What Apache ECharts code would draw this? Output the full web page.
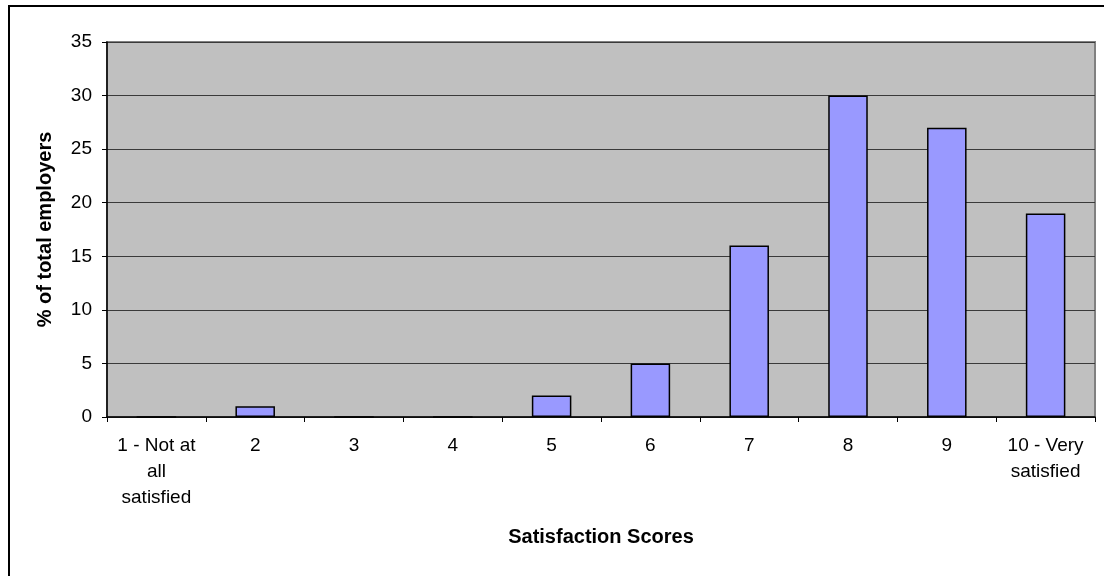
<!DOCTYPE html>
<html>
<head>
<meta charset="utf-8">
<script src="https://cdn.jsdelivr.net/npm/echarts@6/dist/echarts.min.js"></script>
<style>
  html, body { margin: 0; padding: 0; background: #fff; }
  #chart { width: 1104px; height: 576px; }
</style>
</head>
<body>
<div id="chart"></div>
<script>
// Satisfaction score categories (x axis)
const categories = [
  '1 - Not at\nall\nsatisfied', '2', '3', '4', '5', '6', '7', '8', '9', '10 - Very\nsatisfied'
];
// Share of employers giving each score (%)
const percentages = [0, 1, 0, 0, 2, 5, 16, 30, 27, 19];
// Value axis range
const yMin = 0;
const yMax = 35;
const yStep = 5;

const FONT = "'Liberation Sans', Arial, sans-serif";

const chart = echarts.init(document.getElementById('chart'), null, { renderer: 'canvas' });
chart.setOption({
  animation: false,
  backgroundColor: '#ffffff',
  textStyle: { fontFamily: FONT },
  graphic: [
    {
      type: 'rect',
      silent: true,
      z: 100,
      shape: { x: 9, y: 6, width: 1200, height: 700 },
      style: { fill: 'none', stroke: '#000', lineWidth: 2 }
    }
  ],
  grid: {
    left: 107, top: 42, right: 9, bottom: 159,
    show: true,
    backgroundColor: '#C0C0C0',
    borderColor: '#808080',
    borderWidth: 2
  },
  xAxis: {
    type: 'category',
    data: categories,
    boundaryGap: true,
    name: 'Satisfaction Scores',
    nameLocation: 'middle',
    nameGap: 110,
    nameTextStyle: { fontFamily: FONT, fontSize: 20, fontWeight: 'bold', color: '#000' },
    axisLine: { show: true, lineStyle: { color: '#000', width: 1.5 } },
    axisTick: { show: true, inside: false, length: 5, alignWithLabel: false, interval: 0, lineStyle: { color: '#000' } },
    axisLabel: {
      interval: 0,
      margin: 16,
      fontFamily: FONT,
      fontSize: 19,
      lineHeight: 26,
      color: '#000',
      align: 'center'
    },
    splitLine: { show: false }
  },
  yAxis: {
    type: 'value',
    min: yMin,
    max: yMax,
    interval: yStep,
    name: '% of total employers',
    nameLocation: 'middle',
    nameGap: 52,
    nameRotate: 90,
    nameTextStyle: { fontFamily: FONT, fontSize: 20, fontWeight: 'bold', color: '#000' },
    axisLine: { show: true, lineStyle: { color: '#000', width: 1.5 } },
    axisTick: { show: true, inside: false, length: 5, lineStyle: { color: '#000' } },
    axisLabel: { margin: 15, fontFamily: FONT, fontSize: 19, color: '#000' },
    splitLine: { show: true, lineStyle: { color: '#3a3a3a', width: 1 } }
  },
  series: [
    {
      type: 'bar',
      data: percentages,
      barWidth: '40%',
      itemStyle: { color: '#9999FF', borderColor: '#000', borderWidth: 1.5 }
    }
  ]
});
</script>
</body>
</html>
